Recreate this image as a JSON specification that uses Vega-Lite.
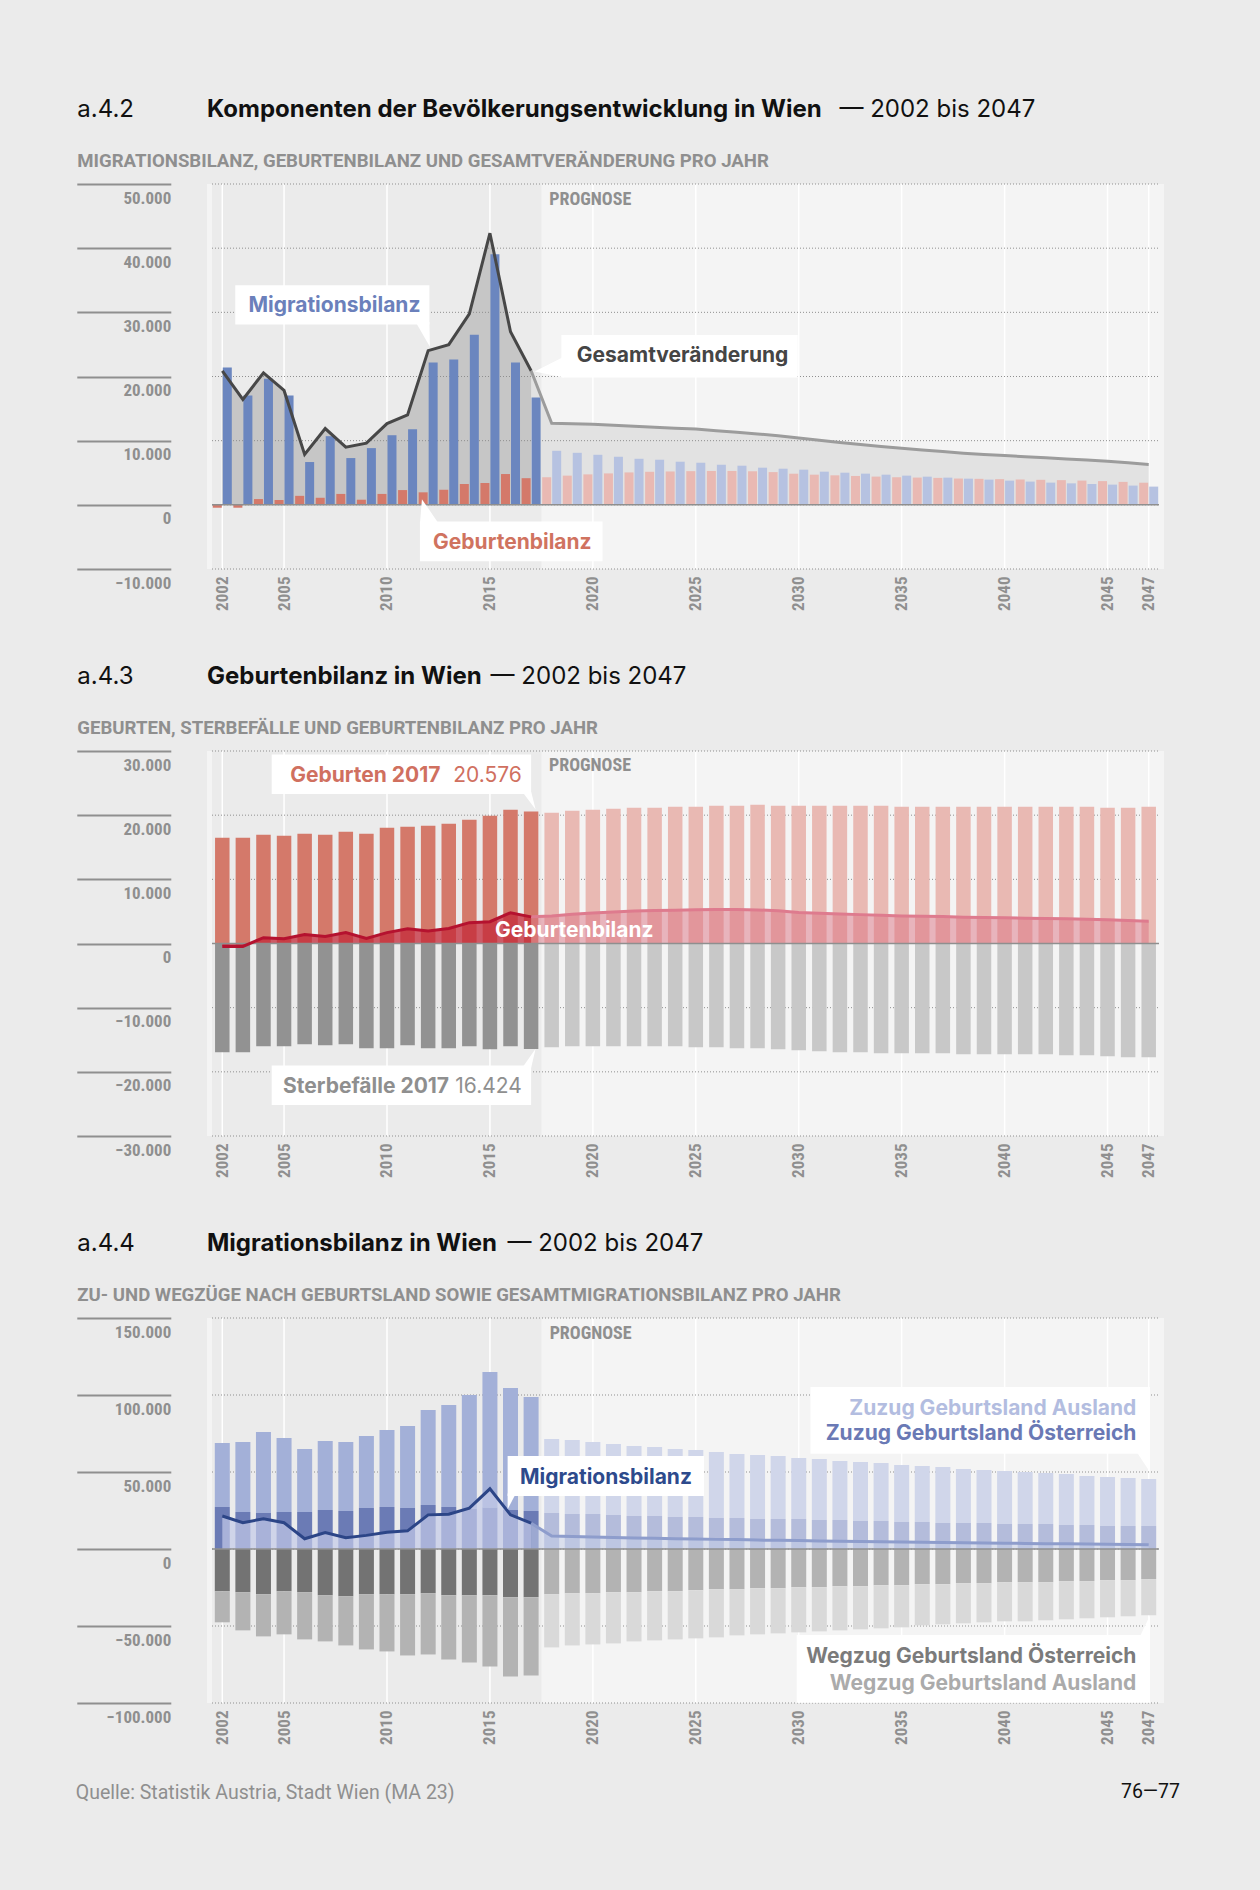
{
"$schema": "https://vega.github.io/schema/vega-lite/v6.json",
"background": "#ebebeb",
"padding": {"left": 75, "top": 97, "right": 90, "bottom": 90},
"config": {
  "view": {"stroke": null},
  "locale": {"number": {"decimal": ",", "thousands": ".", "grouping": [3], "currency": ["", " €"]}},
  "font": "Inter, Roboto, sans-serif",
  "title": {"font": "Inter, Roboto, sans-serif", "fontSize": 24, "fontWeight": "bold", "color": "#111111", "anchor": "start"},
  "axisX": {"labelAngle": -90, "labelAlign": "right", "labelBaseline": "middle", "labelPadding": 7, "labelFont": "Roboto Condensed, Liberation Sans Narrow, DejaVu Sans Condensed, Roboto, sans-serif", "labelFontSize": 17, "labelFontWeight": "bold", "labelColor": "#8f8f8f", "labelFlush": false, "labelOverlap": false, "ticks": false, "domain": false, "grid": false, "titleX": -130.2, "titleY": -402.5, "titleAlign": "left", "titleBaseline": "alphabetic", "titleAngle": 0, "titleFont": "Roboto, sans-serif", "titleFontSize": 18.6, "titleFontWeight": "bold", "titleColor": "#8f8f8f"},
  "axisY": {"offset": 36.2, "tickSize": 94, "tickWidth": 2, "tickColor": "#8f8f8f", "domain": false, "labelPadding": -94, "labelAlign": "right", "labelBaseline": "top", "labelOffset": 6, "labelFont": "Roboto Condensed, Liberation Sans Narrow, DejaVu Sans Condensed, Roboto, sans-serif", "labelFontSize": 17, "labelFontWeight": "bold", "labelColor": "#8f8f8f", "labelFlush": false, "labelOverlap": false, "grid": false, "titleAngle": 0, "titleAlign": "left", "titleBaseline": "alphabetic", "titleX": -94, "titleY": -67.5, "titleFont": "Inter, Roboto, sans-serif", "titleFontSize": 24, "titleFontWeight": "normal", "titleColor": "#111111"},
  "text": {"font": "Inter, Roboto, sans-serif", "fontSize": 21, "fontWeight": "bold"}
},
"datasets": {
  "perioden": [
    {"chart": "a42", "period": "Ist", "year": 2001.5, "year_end": 2017.5, "value": 50000, "value_end": -10000},
    {"chart": "a43", "period": "Ist", "year": 2001.5, "year_end": 2017.5, "value": 30000, "value_end": -30000},
    {"chart": "a44", "period": "Ist", "year": 2001.5, "year_end": 2017.5, "value": 150000, "value_end": -100000}
  ],
  "vgrid": [
    {"chart":"a42","year":2002,"value":50000,"value_end":-10000},{"chart":"a42","year":2005,"value":50000,"value_end":-10000},{"chart":"a42","year":2010,"value":50000,"value_end":-10000},{"chart":"a42","year":2015,"value":50000,"value_end":-10000},{"chart":"a42","year":2020,"value":50000,"value_end":-10000},{"chart":"a42","year":2025,"value":50000,"value_end":-10000},{"chart":"a42","year":2030,"value":50000,"value_end":-10000},{"chart":"a42","year":2035,"value":50000,"value_end":-10000},{"chart":"a42","year":2040,"value":50000,"value_end":-10000},{"chart":"a42","year":2045,"value":50000,"value_end":-10000},{"chart":"a42","year":2047,"value":50000,"value_end":-10000},
    {"chart":"a43","year":2002,"value":30000,"value_end":-30000},{"chart":"a43","year":2005,"value":30000,"value_end":-30000},{"chart":"a43","year":2010,"value":30000,"value_end":-30000},{"chart":"a43","year":2015,"value":30000,"value_end":-30000},{"chart":"a43","year":2020,"value":30000,"value_end":-30000},{"chart":"a43","year":2025,"value":30000,"value_end":-30000},{"chart":"a43","year":2030,"value":30000,"value_end":-30000},{"chart":"a43","year":2035,"value":30000,"value_end":-30000},{"chart":"a43","year":2040,"value":30000,"value_end":-30000},{"chart":"a43","year":2045,"value":30000,"value_end":-30000},{"chart":"a43","year":2047,"value":30000,"value_end":-30000},
    {"chart":"a44","year":2002,"value":150000,"value_end":-100000},{"chart":"a44","year":2005,"value":150000,"value_end":-100000},{"chart":"a44","year":2010,"value":150000,"value_end":-100000},{"chart":"a44","year":2015,"value":150000,"value_end":-100000},{"chart":"a44","year":2020,"value":150000,"value_end":-100000},{"chart":"a44","year":2025,"value":150000,"value_end":-100000},{"chart":"a44","year":2030,"value":150000,"value_end":-100000},{"chart":"a44","year":2035,"value":150000,"value_end":-100000},{"chart":"a44","year":2040,"value":150000,"value_end":-100000},{"chart":"a44","year":2045,"value":150000,"value_end":-100000},{"chart":"a44","year":2047,"value":150000,"value_end":-100000}
  ],
  "hgrid": [
    {"chart":"a42","value":-10000,"year":2001.5,"year_end":2047.5},{"chart":"a42","value":0,"year":2001.5,"year_end":2047.5},{"chart":"a42","value":10000,"year":2001.5,"year_end":2047.5},{"chart":"a42","value":20000,"year":2001.5,"year_end":2047.5},{"chart":"a42","value":30000,"year":2001.5,"year_end":2047.5},{"chart":"a42","value":40000,"year":2001.5,"year_end":2047.5},{"chart":"a42","value":50000,"year":2001.5,"year_end":2047.5},
    {"chart":"a43","value":-30000,"year":2001.5,"year_end":2047.5},{"chart":"a43","value":-20000,"year":2001.5,"year_end":2047.5},{"chart":"a43","value":-10000,"year":2001.5,"year_end":2047.5},{"chart":"a43","value":0,"year":2001.5,"year_end":2047.5},{"chart":"a43","value":10000,"year":2001.5,"year_end":2047.5},{"chart":"a43","value":20000,"year":2001.5,"year_end":2047.5},{"chart":"a43","value":30000,"year":2001.5,"year_end":2047.5},
    {"chart":"a44","value":-100000,"year":2001.5,"year_end":2047.5},{"chart":"a44","value":-50000,"year":2001.5,"year_end":2047.5},{"chart":"a44","value":0,"year":2001.5,"year_end":2047.5},{"chart":"a44","value":50000,"year":2001.5,"year_end":2047.5},{"chart":"a44","value":100000,"year":2001.5,"year_end":2047.5},{"chart":"a44","value":150000,"year":2001.5,"year_end":2047.5}
  ],
  "boxes": [
    {"chart":"a42","id":"mig","year":2002.63,"year_end":2012.06,"value":34210,"value_end":28110},
    {"chart":"a42","id":"ges","year":2018.47,"year_end":2029.95,"value":26460,"value_end":19850},
    {"chart":"a42","id":"geb","year":2011.6,"year_end":2020.47,"value":-2584,"value_end":-8786},
    {"chart":"a43","id":"geb","year":2004.4,"year_end":2017.0,"value":29460,"value_end":23305},
    {"chart":"a43","id":"ste","year":2004.4,"year_end":2017.0,"value":-19030,"value_end":-25180},
    {"chart":"a44","id":"mig","year":2015.86,"year_end":2025.4,"value":60390,"value_end":34415},
    {"chart":"a44","id":"zuz","year":2030.57,"year_end":2047.06,"value":105195,"value_end":61900},
    {"chart":"a44","id":"weg","year":2029.9,"year_end":2047.06,"value":-55870,"value_end":-99780}
  ],
  "tails": [
    {"id":"a42_mig","year":2012.06,"value":28110},
    {"id":"a42_ges","year":2018.47,"value":19850},
    {"id":"a42_geb","year":2011.6,"value":-2584},
    {"id":"a43_geb","year":2017.0,"value":23305},
    {"id":"a43_ste","year":2017.0,"value":-19030},
    {"id":"a44_mig","year":2015.86,"value":34415},
    {"id":"a44_zuz","year":2047.06,"value":61900},
    {"id":"a44_weg","year":2047.06,"value":-55870}
  ],
  "labels": [
    {"id":"a42_prog","label":"PROGNOSE","year":2017.88,"value":46720},
    {"id":"a42_mig","label":"Migrationsbilanz","year":2003.27,"value":30080},
    {"id":"a42_ges","label":"Gesamtveränderung","year":2019.22,"value":22220},
    {"id":"a42_geb","label":"Geburtenbilanz","year":2012.24,"value":-6870},
    {"id":"a43_prog","label":"PROGNOSE","year":2017.87,"value":26850},
    {"id":"a43_bil","label":"Geburtenbilanz","year":2019.1,"value":1000},
    {"id":"a43_geb","label":"Geburten 2017","year":2005.3,"value":25130},
    {"id":"a43_geb_n","label":"20.576","year":2016.55,"value":25130},
    {"id":"a43_ste","label":"Sterbefälle 2017","year":2004.95,"value":-23360},
    {"id":"a43_ste_n","label":"16.424","year":2016.55,"value":-23360},
    {"id":"a44_prog","label":"PROGNOSE","year":2017.9,"value":136150},
    {"id":"a44_mig","label":"Migrationsbilanz","year":2016.46,"value":42420},
    {"id":"a44_zA","label":"Zuzug Geburtsland Ausland","year":2046.4,"value":87230},
    {"id":"a44_zOe","label":"Zuzug Geburtsland Österreich","year":2046.4,"value":70560},
    {"id":"a44_wOe","label":"Wegzug Geburtsland Österreich","year":2046.4,"value":-74130},
    {"id":"a44_wA","label":"Wegzug Geburtsland Ausland","year":2046.4,"value":-91300}
  ],
  "migrationsbilanz": [{"year":2002,"value":21400},{"year":2003,"value":17050},{"year":2004,"value":19640},{"year":2005,"value":17050},{"year":2006,"value":6670},{"year":2007,"value":10700},{"year":2008,"value":7290},{"year":2009,"value":8840},{"year":2010,"value":10850},{"year":2011,"value":11780},{"year":2012,"value":22170},{"year":2013,"value":22640},{"year":2014,"value":26510},{"year":2015,"value":39070},{"year":2016,"value":22170},{"year":2017,"value":16740},{"year":2018,"value":8420},{"year":2019,"value":8110},{"year":2020,"value":7800},{"year":2021,"value":7490},{"year":2022,"value":7180},{"year":2023,"value":7030},{"year":2024,"value":6720},{"year":2025,"value":6560},{"year":2026,"value":6250},{"year":2027,"value":6100},{"year":2028,"value":5790},{"year":2029,"value":5630},{"year":2030,"value":5480},{"year":2031,"value":5170},{"year":2032,"value":5010},{"year":2033,"value":4860},{"year":2034,"value":4700},{"year":2035,"value":4550},{"year":2036,"value":4390},{"year":2037,"value":4240},{"year":2038,"value":4080},{"year":2039,"value":3930},{"year":2040,"value":3770},{"year":2041,"value":3620},{"year":2042,"value":3460},{"year":2043,"value":3350},{"year":2044,"value":3250},{"year":2045,"value":3150},{"year":2046,"value":3000},{"year":2047,"value":2840}],
  "geburtenbilanz": [{"year":2002,"value":-450},{"year":2003,"value":-450},{"year":2004,"value":900},{"year":2005,"value":750},{"year":2006,"value":1400},{"year":2007,"value":1100},{"year":2008,"value":1700},{"year":2009,"value":800},{"year":2010,"value":1700},{"year":2011,"value":2300},{"year":2012,"value":1950},{"year":2013,"value":2350},{"year":2014,"value":3250},{"year":2015,"value":3400},{"year":2016,"value":4800},{"year":2017,"value":4152},{"year":2018,"value":4300},{"year":2019,"value":4550},{"year":2020,"value":4750},{"year":2021,"value":4900},{"year":2022,"value":5050},{"year":2023,"value":5150},{"year":2024,"value":5200},{"year":2025,"value":5250},{"year":2026,"value":5280},{"year":2027,"value":5280},{"year":2028,"value":5230},{"year":2029,"value":5100},{"year":2030,"value":4850},{"year":2031,"value":4700},{"year":2032,"value":4600},{"year":2033,"value":4500},{"year":2034,"value":4400},{"year":2035,"value":4300},{"year":2036,"value":4250},{"year":2037,"value":4200},{"year":2038,"value":4100},{"year":2039,"value":4050},{"year":2040,"value":4000},{"year":2041,"value":3950},{"year":2042,"value":3900},{"year":2043,"value":3850},{"year":2044,"value":3780},{"year":2045,"value":3700},{"year":2046,"value":3580},{"year":2047,"value":3450}],
  "gesamtveraenderung": [{"year":2002,"value":20880},{"year":2003,"value":16430},{"year":2004,"value":20570},{"year":2005,"value":17830},{"year":2006,"value":7860},{"year":2007,"value":11890},{"year":2008,"value":8990},{"year":2009,"value":9610},{"year":2010,"value":12660},{"year":2011,"value":14000},{"year":2012,"value":24030},{"year":2013,"value":24960},{"year":2014,"value":29770},{"year":2015,"value":42330},{"year":2016,"value":26980},{"year":2017,"value":20890},{"year":2018,"value":12700},{"year":2019,"value":12650},{"year":2020,"value":12550},{"year":2021,"value":12400},{"year":2022,"value":12250},{"year":2023,"value":12100},{"year":2024,"value":11950},{"year":2025,"value":11800},{"year":2026,"value":11550},{"year":2027,"value":11300},{"year":2028,"value":11050},{"year":2029,"value":10750},{"year":2030,"value":10400},{"year":2031,"value":10050},{"year":2032,"value":9700},{"year":2033,"value":9400},{"year":2034,"value":9100},{"year":2035,"value":8800},{"year":2036,"value":8550},{"year":2037,"value":8300},{"year":2038,"value":8050},{"year":2039,"value":7850},{"year":2040,"value":7700},{"year":2041,"value":7500},{"year":2042,"value":7330},{"year":2043,"value":7150},{"year":2044,"value":7000},{"year":2045,"value":6800},{"year":2046,"value":6550},{"year":2047,"value":6300}],
  "geburten": [{"year":2002,"value":16475},{"year":2003,"value":16475},{"year":2004,"value":16945},{"year":2005,"value":16790},{"year":2006,"value":17100},{"year":2007,"value":16945},{"year":2008,"value":17415},{"year":2009,"value":17100},{"year":2010,"value":18040},{"year":2011,"value":18195},{"year":2012,"value":18350},{"year":2013,"value":18665},{"year":2014,"value":19290},{"year":2015,"value":19915},{"year":2016,"value":20855},{"year":2017,"value":20576},{"year":2018,"value":20385},{"year":2019,"value":20700},{"year":2020,"value":20855},{"year":2021,"value":21010},{"year":2022,"value":21170},{"year":2023,"value":21170},{"year":2024,"value":21325},{"year":2025,"value":21325},{"year":2026,"value":21480},{"year":2027,"value":21480},{"year":2028,"value":21640},{"year":2029,"value":21480},{"year":2030,"value":21480},{"year":2031,"value":21480},{"year":2032,"value":21480},{"year":2033,"value":21480},{"year":2034,"value":21480},{"year":2035,"value":21325},{"year":2036,"value":21325},{"year":2037,"value":21325},{"year":2038,"value":21325},{"year":2039,"value":21325},{"year":2040,"value":21325},{"year":2041,"value":21325},{"year":2042,"value":21325},{"year":2043,"value":21325},{"year":2044,"value":21325},{"year":2045,"value":21170},{"year":2046,"value":21170},{"year":2047,"value":21325}],
  "sterbefaelle": [{"year":2002,"value":-16945},{"year":2003,"value":-16945},{"year":2004,"value":-16005},{"year":2005,"value":-16005},{"year":2006,"value":-15690},{"year":2007,"value":-15850},{"year":2008,"value":-15690},{"year":2009,"value":-16320},{"year":2010,"value":-16320},{"year":2011,"value":-15850},{"year":2012,"value":-16320},{"year":2013,"value":-16320},{"year":2014,"value":-16005},{"year":2015,"value":-16475},{"year":2016,"value":-16005},{"year":2017,"value":-16424},{"year":2018,"value":-16160},{"year":2019,"value":-16005},{"year":2020,"value":-16005},{"year":2021,"value":-16005},{"year":2022,"value":-16005},{"year":2023,"value":-16005},{"year":2024,"value":-16005},{"year":2025,"value":-16160},{"year":2026,"value":-16160},{"year":2027,"value":-16320},{"year":2028,"value":-16320},{"year":2029,"value":-16475},{"year":2030,"value":-16630},{"year":2031,"value":-16790},{"year":2032,"value":-16945},{"year":2033,"value":-16945},{"year":2034,"value":-17100},{"year":2035,"value":-17100},{"year":2036,"value":-17100},{"year":2037,"value":-17100},{"year":2038,"value":-17260},{"year":2039,"value":-17260},{"year":2040,"value":-17260},{"year":2041,"value":-17260},{"year":2042,"value":-17260},{"year":2043,"value":-17415},{"year":2044,"value":-17415},{"year":2045,"value":-17570},{"year":2046,"value":-17725},{"year":2047,"value":-17725}],
  "wanderung": [
{"year":2002,"series":"Zuzug Österreich","value":27270},{"year":2002,"series":"Zuzug Ausland","value":41560},{"year":2002,"series":"Wegzug Österreich","value":-27390},{"year":2002,"series":"Wegzug Ausland","value":-20220},
{"year":2003,"series":"Zuzug Österreich","value":24025},{"year":2003,"series":"Zuzug Ausland","value":45455},{"year":2003,"series":"Wegzug Österreich","value":-28040},{"year":2003,"series":"Wegzug Ausland","value":-24790},
{"year":2004,"series":"Zuzug Österreich","value":23375},{"year":2004,"series":"Zuzug Ausland","value":52595},{"year":2004,"series":"Wegzug Österreich","value":-29350},{"year":2004,"series":"Wegzug Ausland","value":-27390},
{"year":2005,"series":"Zuzug Österreich","value":24025},{"year":2005,"series":"Zuzug Ausland","value":48055},{"year":2005,"series":"Wegzug Österreich","value":-27390},{"year":2005,"series":"Wegzug Ausland","value":-28040},
{"year":2006,"series":"Zuzug Österreich","value":24025},{"year":2006,"series":"Zuzug Ausland","value":40910},{"year":2006,"series":"Wegzug Österreich","value":-28040},{"year":2006,"series":"Wegzug Ausland","value":-30660},
{"year":2007,"series":"Zuzug Österreich","value":25325},{"year":2007,"series":"Zuzug Ausland","value":44805},{"year":2007,"series":"Wegzug Österreich","value":-30000},{"year":2007,"series":"Wegzug Ausland","value":-30000},
{"year":2008,"series":"Zuzug Österreich","value":24675},{"year":2008,"series":"Zuzug Ausland","value":44805},{"year":2008,"series":"Wegzug Österreich","value":-30650},{"year":2008,"series":"Wegzug Ausland","value":-31960},
{"year":2009,"series":"Zuzug Österreich","value":26620},{"year":2009,"series":"Zuzug Ausland","value":46755},{"year":2009,"series":"Wegzug Österreich","value":-29350},{"year":2009,"series":"Wegzug Ausland","value":-35870},
{"year":2010,"series":"Zuzug Österreich","value":27270},{"year":2010,"series":"Zuzug Ausland","value":50000},{"year":2010,"series":"Wegzug Österreich","value":-29350},{"year":2010,"series":"Wegzug Ausland","value":-37170},
{"year":2011,"series":"Zuzug Österreich","value":26620},{"year":2011,"series":"Zuzug Ausland","value":53250},{"year":2011,"series":"Wegzug Österreich","value":-29350},{"year":2011,"series":"Wegzug Ausland","value":-39780},
{"year":2012,"series":"Zuzug Österreich","value":28570},{"year":2012,"series":"Zuzug Ausland","value":61690},{"year":2012,"series":"Wegzug Österreich","value":-28700},{"year":2012,"series":"Wegzug Ausland","value":-39780},
{"year":2013,"series":"Zuzug Österreich","value":27270},{"year":2013,"series":"Zuzug Ausland","value":66240},{"year":2013,"series":"Wegzug Österreich","value":-30000},{"year":2013,"series":"Wegzug Ausland","value":-41740},
{"year":2014,"series":"Zuzug Österreich","value":26000},{"year":2014,"series":"Zuzug Ausland","value":74000},{"year":2014,"series":"Wegzug Österreich","value":-30000},{"year":2014,"series":"Wegzug Ausland","value":-43700},
{"year":2015,"series":"Zuzug Österreich","value":27000},{"year":2015,"series":"Zuzug Ausland","value":87935},{"year":2015,"series":"Wegzug Österreich","value":-30000},{"year":2015,"series":"Wegzug Ausland","value":-46300},
{"year":2016,"series":"Zuzug Österreich","value":25325},{"year":2016,"series":"Zuzug Ausland","value":79220},{"year":2016,"series":"Wegzug Österreich","value":-31300},{"year":2016,"series":"Wegzug Ausland","value":-51530},
{"year":2017,"series":"Zuzug Österreich","value":24675},{"year":2017,"series":"Zuzug Ausland","value":74025},{"year":2017,"series":"Wegzug Österreich","value":-31300},{"year":2017,"series":"Wegzug Ausland","value":-50870},
{"year":2018,"series":"Zuzug Österreich","value":23375},{"year":2018,"series":"Zuzug Ausland","value":48055},{"year":2018,"series":"Wegzug Österreich","value":-29350},{"year":2018,"series":"Wegzug Ausland","value":-34560},
{"year":2019,"series":"Zuzug Österreich","value":22730},{"year":2019,"series":"Zuzug Ausland","value":48050},{"year":2019,"series":"Wegzug Österreich","value":-28700},{"year":2019,"series":"Wegzug Ausland","value":-33910},
{"year":2020,"series":"Zuzug Österreich","value":22730},{"year":2020,"series":"Zuzug Ausland","value":46750},{"year":2020,"series":"Wegzug Österreich","value":-28700},{"year":2020,"series":"Wegzug Ausland","value":-33260},
{"year":2021,"series":"Zuzug Österreich","value":22080},{"year":2021,"series":"Zuzug Ausland","value":46100},{"year":2021,"series":"Wegzug Österreich","value":-28040},{"year":2021,"series":"Wegzug Ausland","value":-33260},
{"year":2022,"series":"Zuzug Österreich","value":21430},{"year":2022,"series":"Zuzug Ausland","value":45450},{"year":2022,"series":"Wegzug Österreich","value":-28040},{"year":2022,"series":"Wegzug Ausland","value":-31960},
{"year":2023,"series":"Zuzug Österreich","value":21430},{"year":2023,"series":"Zuzug Ausland","value":44800},{"year":2023,"series":"Wegzug Österreich","value":-27390},{"year":2023,"series":"Wegzug Ausland","value":-31960},
{"year":2024,"series":"Zuzug Österreich","value":20780},{"year":2024,"series":"Zuzug Ausland","value":44155},{"year":2024,"series":"Wegzug Österreich","value":-27390},{"year":2024,"series":"Wegzug Ausland","value":-31310},
{"year":2025,"series":"Zuzug Österreich","value":20780},{"year":2025,"series":"Zuzug Ausland","value":43505},{"year":2025,"series":"Wegzug Österreich","value":-26740},{"year":2025,"series":"Wegzug Ausland","value":-31300},
{"year":2026,"series":"Zuzug Österreich","value":20130},{"year":2026,"series":"Zuzug Ausland","value":42860},{"year":2026,"series":"Wegzug Österreich","value":-26090},{"year":2026,"series":"Wegzug Ausland","value":-31300},
{"year":2027,"series":"Zuzug Österreich","value":20130},{"year":2027,"series":"Zuzug Ausland","value":41560},{"year":2027,"series":"Wegzug Österreich","value":-26090},{"year":2027,"series":"Wegzug Ausland","value":-30000},
{"year":2028,"series":"Zuzug Österreich","value":19480},{"year":2028,"series":"Zuzug Ausland","value":41560},{"year":2028,"series":"Wegzug Österreich","value":-25430},{"year":2028,"series":"Wegzug Ausland","value":-30000},
{"year":2029,"series":"Zuzug Österreich","value":19480},{"year":2029,"series":"Zuzug Ausland","value":40910},{"year":2029,"series":"Wegzug Österreich","value":-25430},{"year":2029,"series":"Wegzug Ausland","value":-29350},
{"year":2030,"series":"Zuzug Österreich","value":19480},{"year":2030,"series":"Zuzug Ausland","value":39610},{"year":2030,"series":"Wegzug Österreich","value":-24780},{"year":2030,"series":"Wegzug Ausland","value":-29350},
{"year":2031,"series":"Zuzug Österreich","value":18830},{"year":2031,"series":"Zuzug Ausland","value":39610},{"year":2031,"series":"Wegzug Österreich","value":-24780},{"year":2031,"series":"Wegzug Ausland","value":-28700},
{"year":2032,"series":"Zuzug Österreich","value":18830},{"year":2032,"series":"Zuzug Ausland","value":38310},{"year":2032,"series":"Wegzug Österreich","value":-24130},{"year":2032,"series":"Wegzug Ausland","value":-28700},
{"year":2033,"series":"Zuzug Österreich","value":18180},{"year":2033,"series":"Zuzug Ausland","value":38310},{"year":2033,"series":"Wegzug Österreich","value":-24130},{"year":2033,"series":"Wegzug Ausland","value":-28040},
{"year":2034,"series":"Zuzug Österreich","value":18180},{"year":2034,"series":"Zuzug Ausland","value":37660},{"year":2034,"series":"Wegzug Österreich","value":-23480},{"year":2034,"series":"Wegzug Ausland","value":-28040},
{"year":2035,"series":"Zuzug Österreich","value":17530},{"year":2035,"series":"Zuzug Ausland","value":37015},{"year":2035,"series":"Wegzug Österreich","value":-23480},{"year":2035,"series":"Wegzug Ausland","value":-27390},
{"year":2036,"series":"Zuzug Österreich","value":17530},{"year":2036,"series":"Zuzug Ausland","value":36370},{"year":2036,"series":"Wegzug Österreich","value":-22830},{"year":2036,"series":"Wegzug Ausland","value":-26740},
{"year":2037,"series":"Zuzug Österreich","value":16880},{"year":2037,"series":"Zuzug Ausland","value":36370},{"year":2037,"series":"Wegzug Österreich","value":-22830},{"year":2037,"series":"Wegzug Ausland","value":-26080},
{"year":2038,"series":"Zuzug Österreich","value":16880},{"year":2038,"series":"Zuzug Ausland","value":35070},{"year":2038,"series":"Wegzug Österreich","value":-22170},{"year":2038,"series":"Wegzug Ausland","value":-26090},
{"year":2039,"series":"Zuzug Österreich","value":16880},{"year":2039,"series":"Zuzug Ausland","value":34420},{"year":2039,"series":"Wegzug Österreich","value":-22170},{"year":2039,"series":"Wegzug Ausland","value":-25440},
{"year":2040,"series":"Zuzug Österreich","value":16230},{"year":2040,"series":"Zuzug Ausland","value":34420},{"year":2040,"series":"Wegzug Österreich","value":-21520},{"year":2040,"series":"Wegzug Ausland","value":-25440},
{"year":2041,"series":"Zuzug Österreich","value":16230},{"year":2041,"series":"Zuzug Ausland","value":33770},{"year":2041,"series":"Wegzug Österreich","value":-21520},{"year":2041,"series":"Wegzug Ausland","value":-25440},
{"year":2042,"series":"Zuzug Österreich","value":16230},{"year":2042,"series":"Zuzug Ausland","value":33120},{"year":2042,"series":"Wegzug Österreich","value":-21520},{"year":2042,"series":"Wegzug Ausland","value":-24780},
{"year":2043,"series":"Zuzug Österreich","value":15580},{"year":2043,"series":"Zuzug Ausland","value":33120},{"year":2043,"series":"Wegzug Österreich","value":-20870},{"year":2043,"series":"Wegzug Ausland","value":-24780},
{"year":2044,"series":"Zuzug Österreich","value":15580},{"year":2044,"series":"Zuzug Ausland","value":31820},{"year":2044,"series":"Wegzug Österreich","value":-20870},{"year":2044,"series":"Wegzug Ausland","value":-24130},
{"year":2045,"series":"Zuzug Österreich","value":14935},{"year":2045,"series":"Zuzug Ausland","value":31815},{"year":2045,"series":"Wegzug Österreich","value":-20220},{"year":2045,"series":"Wegzug Ausland","value":-24130},
{"year":2046,"series":"Zuzug Österreich","value":14935},{"year":2046,"series":"Zuzug Ausland","value":31165},{"year":2046,"series":"Wegzug Österreich","value":-20220},{"year":2046,"series":"Wegzug Ausland","value":-23480},
{"year":2047,"series":"Zuzug Österreich","value":14935},{"year":2047,"series":"Zuzug Ausland","value":30515},{"year":2047,"series":"Wegzug Österreich","value":-19570},{"year":2047,"series":"Wegzug Ausland","value":-23470}
  ]
},
"title": {"text": "76—77", "orient": "bottom", "anchor": "end", "frame": "bounds", "offset": -19.5, "dx": 16, "font": "Roboto, sans-serif", "fontSize": 19.5, "fontWeight": "normal", "color": "#111111"},
"vconcat": [{
  "title": {"text": "Quelle: Statistik Austria, Stadt Wien (MA 23)", "orient": "bottom", "anchor": "start", "frame": "bounds", "offset": 40, "font": "Roboto, sans-serif", "fontSize": 19.5, "fontWeight": "normal", "color": "#8f8f8f"},
  "spacing": 53,
  "vconcat": [
  {
    "title": {"text": "— 2002 bis 2047", "anchor": "start", "frame": "bounds", "dx": 763.6, "offset": -24, "fontWeight": "normal"},
    "vconcat": [{
      "width": 957, "height": 385,
      "view": {"fill": "#f4f4f4", "stroke": null},
      "title": {"text": "Komponenten der Bevölkerungsentwicklung in Wien", "anchor": "start", "frame": "group", "offset": -24},
      "encoding": {
        "x": {"field": "year", "type": "quantitative", "scale": {"domain": [2001.5, 2047.5], "nice": false, "zero": false}, "axis": {"values": [2002,2005,2010,2015,2020,2025,2030,2035,2040,2045,2047], "format": "d", "title": "MIGRATIONSBILANZ, GEBURTENBILANZ UND GESAMTVERÄNDERUNG PRO JAHR"}},
        "y": {"field": "value", "type": "quantitative", "scale": {"domain": [-10000, 50000], "nice": false, "zero": false}, "axis": {"values": [-10000,0,10000,20000,30000,40000,50000], "format": ",d", "title": "a.4.2"}}
      },
      "layer": [
        {"data": {"name": "perioden"}, "transform": [{"filter": "datum.chart == 'a42'"}], "mark": {"type": "rect", "color": "#ebebeb"}, "encoding": {"x2": {"field": "year_end"}, "y2": {"field": "value_end"}}},
        {"data": {"name": "vgrid"}, "transform": [{"filter": "datum.chart == 'a42'"}], "mark": {"type": "rule", "color": "#ffffff", "strokeWidth": 1.5}, "encoding": {"y2": {"field": "value_end"}}},
        {"data": {"name": "gesamtveraenderung"}, "transform": [{"filter": "datum.year >= 2017"}], "mark": {"type": "area", "color": "#e2e2e2"}},
        {"data": {"name": "gesamtveraenderung"}, "transform": [{"filter": "datum.year <= 2017"}], "mark": {"type": "area", "color": "#c6c6c6"}},
        {"data": {"name": "hgrid"}, "transform": [{"filter": "datum.chart == 'a42'"}], "mark": {"type": "rule", "color": "#8f8f8f", "strokeWidth": 1, "strokeDash": [1, 2]}, "encoding": {"x2": {"field": "year_end"}}},
        {"data": {"name": "geburtenbilanz"}, "transform": [{"filter": "datum.year <= 2017"}], "mark": {"type": "bar", "width": 9, "xOffset": -5, "color": "#d4796a"}},
        {"data": {"name": "geburtenbilanz"}, "transform": [{"filter": "datum.year >= 2018"}], "mark": {"type": "bar", "width": 9, "xOffset": -5, "color": "#e9b9b3"}},
        {"data": {"name": "migrationsbilanz"}, "transform": [{"filter": "datum.year <= 2017"}], "mark": {"type": "bar", "width": 9, "xOffset": 5, "color": "#6b86bf"}},
        {"data": {"name": "migrationsbilanz"}, "transform": [{"filter": "datum.year >= 2018"}], "mark": {"type": "bar", "width": 9, "xOffset": 5, "color": "#b6c2e1"}},
        {"data": {"name": "hgrid"}, "transform": [{"filter": "datum.chart == 'a42' && datum.value == 0"}], "mark": {"type": "rule", "color": "#8f8f8f", "strokeWidth": 1.5}, "encoding": {"x2": {"field": "year_end"}}},
        {"data": {"name": "gesamtveraenderung"}, "transform": [{"filter": "datum.year >= 2017"}], "mark": {"type": "line", "color": "#9c9c9c", "strokeWidth": 3}},
        {"data": {"name": "gesamtveraenderung"}, "transform": [{"filter": "datum.year <= 2017"}], "mark": {"type": "line", "color": "#474747", "strokeWidth": 3}},
        {"data": {"name": "tails"}, "transform": [{"filter": "datum.id == 'a42_mig'"}], "mark": {"type": "point", "shape": "M-0.55,-0.1L0,-0.1L0.02,0.89Z", "size": 2500, "filled": true, "color": "#ffffff", "opacity": 1, "strokeWidth": 0}},
        {"data": {"name": "tails"}, "transform": [{"filter": "datum.id == 'a42_ges'"}], "mark": {"type": "point", "shape": "M0.1,0L0.1,-0.83L-1.07,-0.24Z", "size": 2500, "filled": true, "color": "#ffffff", "opacity": 1, "strokeWidth": 0}},
        {"data": {"name": "tails"}, "transform": [{"filter": "datum.id == 'a42_geb'"}], "mark": {"type": "point", "shape": "M0,0.1L0.76,0.1L0.08,-0.89Z", "size": 2500, "filled": true, "color": "#ffffff", "opacity": 1, "strokeWidth": 0}},
        {"data": {"name": "boxes"}, "transform": [{"filter": "datum.chart == 'a42'"}], "mark": {"type": "rect", "color": "#ffffff"}, "encoding": {"x2": {"field": "year_end"}, "y2": {"field": "value_end"}}},
        {"data": {"name": "labels"}, "transform": [{"filter": "datum.id == 'a42_mig'"}], "mark": {"type": "text", "align": "left", "baseline": "alphabetic", "color": "#6b80bb"}, "encoding": {"text": {"field": "label"}}},
        {"data": {"name": "labels"}, "transform": [{"filter": "datum.id == 'a42_ges'"}], "mark": {"type": "text", "align": "left", "baseline": "alphabetic", "color": "#454545"}, "encoding": {"text": {"field": "label"}}},
        {"data": {"name": "labels"}, "transform": [{"filter": "datum.id == 'a42_geb'"}], "mark": {"type": "text", "align": "left", "baseline": "alphabetic", "color": "#d0735f"}, "encoding": {"text": {"field": "label"}}},
        {"data": {"name": "labels"}, "transform": [{"filter": "datum.id == 'a42_prog'"}], "mark": {"type": "text", "align": "left", "baseline": "alphabetic", "color": "#8f8f8f", "font": "Roboto Condensed, Liberation Sans Narrow, DejaVu Sans Condensed, Roboto, sans-serif", "fontSize": 18, "fontWeight": "bold"}, "encoding": {"text": {"field": "label"}}}
      ]
    }]
  },
  {
    "title": {"text": "— 2002 bis 2047", "anchor": "start", "frame": "bounds", "dx": 414.8, "offset": -24, "fontWeight": "normal"},
    "vconcat": [{
      "width": 957, "height": 385,
      "view": {"fill": "#f4f4f4", "stroke": null},
      "title": {"text": "Geburtenbilanz in Wien", "anchor": "start", "frame": "group", "offset": -24},
      "encoding": {
        "x": {"field": "year", "type": "quantitative", "scale": {"domain": [2001.5, 2047.5], "nice": false, "zero": false}, "axis": {"values": [2002,2005,2010,2015,2020,2025,2030,2035,2040,2045,2047], "format": "d", "title": "GEBURTEN, STERBEFÄLLE UND GEBURTENBILANZ PRO JAHR"}},
        "y": {"field": "value", "type": "quantitative", "scale": {"domain": [-30000, 30000], "nice": false, "zero": false}, "axis": {"values": [-30000,-20000,-10000,0,10000,20000,30000], "format": ",d", "title": "a.4.3"}}
      },
      "layer": [
        {"data": {"name": "perioden"}, "transform": [{"filter": "datum.chart == 'a43'"}], "mark": {"type": "rect", "color": "#ebebeb"}, "encoding": {"x2": {"field": "year_end"}, "y2": {"field": "value_end"}}},
        {"data": {"name": "vgrid"}, "transform": [{"filter": "datum.chart == 'a43'"}], "mark": {"type": "rule", "color": "#ffffff", "strokeWidth": 1.5}, "encoding": {"y2": {"field": "value_end"}}},
        {"data": {"name": "hgrid"}, "transform": [{"filter": "datum.chart == 'a43'"}], "mark": {"type": "rule", "color": "#8f8f8f", "strokeWidth": 1, "strokeDash": [1, 2]}, "encoding": {"x2": {"field": "year_end"}}},
        {"data": {"name": "geburten"}, "transform": [{"filter": "datum.year <= 2017"}], "mark": {"type": "bar", "width": 14.5, "color": "#d4796a"}},
        {"data": {"name": "geburten"}, "transform": [{"filter": "datum.year >= 2018"}], "mark": {"type": "bar", "width": 14.5, "color": "#e9b9b3"}},
        {"data": {"name": "sterbefaelle"}, "transform": [{"filter": "datum.year <= 2017"}], "mark": {"type": "bar", "width": 14.5, "color": "#929292"}},
        {"data": {"name": "sterbefaelle"}, "transform": [{"filter": "datum.year >= 2018"}], "mark": {"type": "bar", "width": 14.5, "color": "#c8c8c8"}},
        {"data": {"name": "geburtenbilanz"}, "transform": [{"filter": "datum.year >= 2017"}], "mark": {"type": "area", "color": "#dc7384", "opacity": 0.5}},
        {"data": {"name": "geburtenbilanz"}, "transform": [{"filter": "datum.year <= 2017"}], "mark": {"type": "area", "color": "#c42a3a", "opacity": 0.75}},
        {"data": {"name": "hgrid"}, "transform": [{"filter": "datum.chart == 'a43' && datum.value == 0"}], "mark": {"type": "rule", "color": "#8f8f8f", "strokeWidth": 1.5}, "encoding": {"x2": {"field": "year_end"}}},
        {"data": {"name": "geburtenbilanz"}, "transform": [{"filter": "datum.year >= 2017"}], "mark": {"type": "line", "color": "#de7b8e", "strokeWidth": 3}},
        {"data": {"name": "geburtenbilanz"}, "transform": [{"filter": "datum.year <= 2017"}], "mark": {"type": "line", "color": "#b5122f", "strokeWidth": 3}},
        {"data": {"name": "labels"}, "transform": [{"filter": "datum.id == 'a43_bil'"}], "mark": {"type": "text", "align": "center", "baseline": "alphabetic", "color": "#ffffff"}, "encoding": {"text": {"field": "label"}}},
        {"data": {"name": "tails"}, "transform": [{"filter": "datum.id == 'a43_geb'"}], "mark": {"type": "point", "shape": "M-0.36,-0.1L0,-0.1L0.18,0.62Z", "size": 2500, "filled": true, "color": "#ffffff", "opacity": 1, "strokeWidth": 0}},
        {"data": {"name": "tails"}, "transform": [{"filter": "datum.id == 'a43_ste'"}], "mark": {"type": "point", "shape": "M-0.36,0.1L0,0.1L0.18,-0.67Z", "size": 2500, "filled": true, "color": "#ffffff", "opacity": 1, "strokeWidth": 0}},
        {"data": {"name": "boxes"}, "transform": [{"filter": "datum.chart == 'a43'"}], "mark": {"type": "rect", "color": "#ffffff"}, "encoding": {"x2": {"field": "year_end"}, "y2": {"field": "value_end"}}},
        {"data": {"name": "labels"}, "transform": [{"filter": "datum.id == 'a43_geb'"}], "mark": {"type": "text", "align": "left", "baseline": "alphabetic", "color": "#d0705f"}, "encoding": {"text": {"field": "label"}}},
        {"data": {"name": "labels"}, "transform": [{"filter": "datum.id == 'a43_geb_n'"}], "mark": {"type": "text", "align": "right", "baseline": "alphabetic", "color": "#d0705f", "fontWeight": "normal"}, "encoding": {"text": {"field": "label"}}},
        {"data": {"name": "labels"}, "transform": [{"filter": "datum.id == 'a43_ste'"}], "mark": {"type": "text", "align": "left", "baseline": "alphabetic", "color": "#8f8f8f"}, "encoding": {"text": {"field": "label"}}},
        {"data": {"name": "labels"}, "transform": [{"filter": "datum.id == 'a43_ste_n'"}], "mark": {"type": "text", "align": "right", "baseline": "alphabetic", "color": "#8f8f8f", "fontWeight": "normal"}, "encoding": {"text": {"field": "label"}}},
        {"data": {"name": "labels"}, "transform": [{"filter": "datum.id == 'a43_prog'"}], "mark": {"type": "text", "align": "left", "baseline": "alphabetic", "color": "#8f8f8f", "font": "Roboto Condensed, Liberation Sans Narrow, DejaVu Sans Condensed, Roboto, sans-serif", "fontSize": 18, "fontWeight": "bold"}, "encoding": {"text": {"field": "label"}}}
      ]
    }]
  },
  {
    "title": {"text": "— 2002 bis 2047", "anchor": "start", "frame": "bounds", "dx": 431.6, "offset": -24, "fontWeight": "normal"},
    "vconcat": [{
      "width": 957, "height": 385,
      "view": {"fill": "#f4f4f4", "stroke": null},
      "title": {"text": "Migrationsbilanz in Wien", "anchor": "start", "frame": "group", "offset": -24},
      "encoding": {
        "x": {"field": "year", "type": "quantitative", "scale": {"domain": [2001.5, 2047.5], "nice": false, "zero": false}, "axis": {"values": [2002,2005,2010,2015,2020,2025,2030,2035,2040,2045,2047], "format": "d", "title": "ZU- UND WEGZÜGE NACH GEBURTSLAND SOWIE GESAMTMIGRATIONSBILANZ PRO JAHR"}},
        "y": {"field": "value", "type": "quantitative", "scale": {"domain": [-100000, 150000], "nice": false, "zero": false}, "axis": {"values": [-100000,-50000,0,50000,100000,150000], "format": ",d", "title": "a.4.4"}}
      },
      "resolve": {"scale": {"color": "independent"}},
      "layer": [
        {"data": {"name": "perioden"}, "transform": [{"filter": "datum.chart == 'a44'"}], "mark": {"type": "rect", "color": "#ebebeb"}, "encoding": {"x2": {"field": "year_end"}, "y2": {"field": "value_end"}}},
        {"data": {"name": "vgrid"}, "transform": [{"filter": "datum.chart == 'a44'"}], "mark": {"type": "rule", "color": "#ffffff", "strokeWidth": 1.5}, "encoding": {"y2": {"field": "value_end"}}},
        {"data": {"name": "hgrid"}, "transform": [{"filter": "datum.chart == 'a44'"}], "mark": {"type": "rule", "color": "#8f8f8f", "strokeWidth": 1, "strokeDash": [1, 2]}, "encoding": {"x2": {"field": "year_end"}}},
        {"data": {"name": "wanderung"}, "transform": [{"filter": "datum.year <= 2017"}], "mark": {"type": "bar", "width": 15},
         "encoding": {"color": {"field": "series", "type": "nominal", "scale": {"domain": ["Zuzug Österreich", "Zuzug Ausland", "Wegzug Österreich", "Wegzug Ausland"], "range": ["#6b7bb5", "#a3b0d8", "#737373", "#b3b3b3"]}, "legend": null}, "order": {"field": "series", "sort": "descending"}}},
        {"data": {"name": "wanderung"}, "transform": [{"filter": "datum.year >= 2018"}], "mark": {"type": "bar", "width": 15},
         "encoding": {"color": {"field": "series", "type": "nominal", "scale": {"domain": ["Zuzug Österreich", "Zuzug Ausland", "Wegzug Österreich", "Wegzug Ausland"], "range": ["#b4bcdb", "#d0d6ea", "#b3b3b3", "#d9d9d9"]}, "legend": null}, "order": {"field": "series", "sort": "descending"}}},
        {"data": {"name": "migrationsbilanz"}, "transform": [{"filter": "datum.year >= 2017"}], "mark": {"type": "area", "color": "#c5cde8", "opacity": 0.55}},
        {"data": {"name": "migrationsbilanz"}, "transform": [{"filter": "datum.year <= 2017"}], "mark": {"type": "area", "color": "#c3cbe8", "opacity": 0.7}},
        {"data": {"name": "hgrid"}, "transform": [{"filter": "datum.chart == 'a44' && datum.value == 0"}], "mark": {"type": "rule", "color": "#8f8f8f", "strokeWidth": 1.5}, "encoding": {"x2": {"field": "year_end"}}},
        {"data": {"name": "migrationsbilanz"}, "transform": [{"filter": "datum.year >= 2017"}], "mark": {"type": "line", "color": "#8e9dcc", "strokeWidth": 3}},
        {"data": {"name": "migrationsbilanz"}, "transform": [{"filter": "datum.year <= 2017"}], "mark": {"type": "line", "color": "#2c4587", "strokeWidth": 3}},
        {"data": {"name": "tails"}, "transform": [{"filter": "datum.id == 'a44_mig'"}], "mark": {"type": "point", "shape": "M0,-0.1L0.33,-0.1L0,0.53Z", "size": 2500, "filled": true, "color": "#ffffff", "opacity": 1, "strokeWidth": 0}},
        {"data": {"name": "tails"}, "transform": [{"filter": "datum.id == 'a44_zuz'"}], "mark": {"type": "point", "shape": "M-0.55,-0.1L0,-0.1L0,0.73Z", "size": 2500, "filled": true, "color": "#ffffff", "opacity": 1, "strokeWidth": 0}},
        {"data": {"name": "tails"}, "transform": [{"filter": "datum.id == 'a44_weg'"}], "mark": {"type": "point", "shape": "M-0.42,0.1L0,0.1L0,-0.78Z", "size": 2500, "filled": true, "color": "#ffffff", "opacity": 1, "strokeWidth": 0}},
        {"data": {"name": "boxes"}, "transform": [{"filter": "datum.chart == 'a44'"}], "mark": {"type": "rect", "color": "#ffffff"}, "encoding": {"x2": {"field": "year_end"}, "y2": {"field": "value_end"}}},
        {"data": {"name": "labels"}, "transform": [{"filter": "datum.id == 'a44_mig'"}], "mark": {"type": "text", "align": "left", "baseline": "alphabetic", "color": "#2d4a8c"}, "encoding": {"text": {"field": "label"}}},
        {"data": {"name": "labels"}, "transform": [{"filter": "datum.id == 'a44_zA'"}], "mark": {"type": "text", "align": "right", "baseline": "alphabetic", "color": "#b3bde0"}, "encoding": {"text": {"field": "label"}}},
        {"data": {"name": "labels"}, "transform": [{"filter": "datum.id == 'a44_zOe'"}], "mark": {"type": "text", "align": "right", "baseline": "alphabetic", "color": "#6a79b5"}, "encoding": {"text": {"field": "label"}}},
        {"data": {"name": "labels"}, "transform": [{"filter": "datum.id == 'a44_wOe'"}], "mark": {"type": "text", "align": "right", "baseline": "alphabetic", "color": "#7b7b7b"}, "encoding": {"text": {"field": "label"}}},
        {"data": {"name": "labels"}, "transform": [{"filter": "datum.id == 'a44_wA'"}], "mark": {"type": "text", "align": "right", "baseline": "alphabetic", "color": "#ababab"}, "encoding": {"text": {"field": "label"}}},
        {"data": {"name": "labels"}, "transform": [{"filter": "datum.id == 'a44_prog'"}], "mark": {"type": "text", "align": "left", "baseline": "alphabetic", "color": "#8f8f8f", "font": "Roboto Condensed, Liberation Sans Narrow, DejaVu Sans Condensed, Roboto, sans-serif", "fontSize": 18, "fontWeight": "bold"}, "encoding": {"text": {"field": "label"}}}
      ]
    }]
  }
  ]
}]
}
